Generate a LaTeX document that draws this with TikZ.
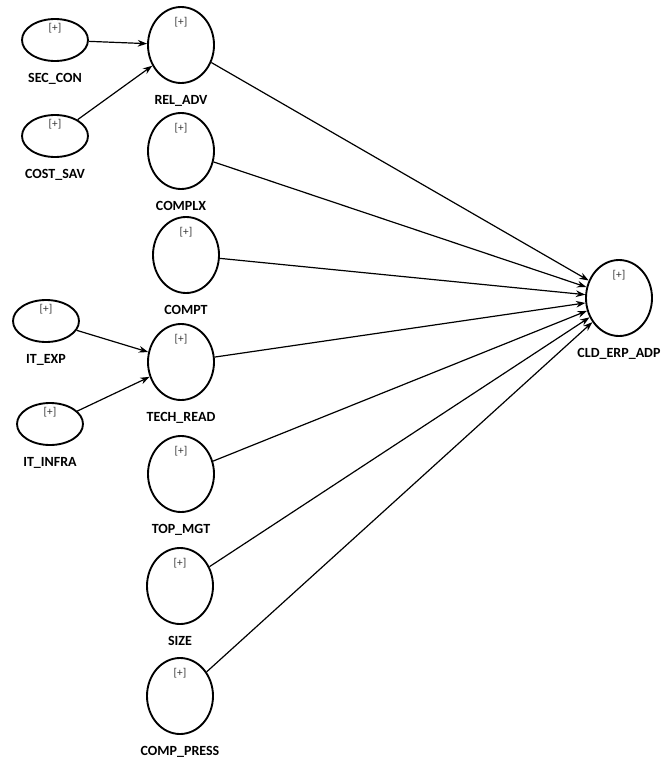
\documentclass[tikz,border=0pt]{standalone}
\usepackage{fontspec}
\setmainfont{Carlito}
\usetikzlibrary{shapes.geometric,arrows.meta}

\tikzset{
	plus/.style={font=\fontsize{8.5}{10}\selectfont, text=black!80, anchor=center, inner sep=0pt},
	lbl/.style={font=\fontsize{10.5}{12}\selectfont\bfseries, inner sep=1pt, label distance=7.5pt},
	indic/.style={ellipse, draw, line width=1.4pt, minimum width=49.5pt, minimum height=31.5pt, inner sep=0pt,
		label={[plus,label distance=-7.5pt]90:{[+]}}, label={[lbl]below:#1}},
	constr/.style={ellipse, draw, line width=1.4pt, minimum width=49.5pt, minimum height=57pt, inner sep=0pt,
		label={[plus,label distance=-12pt]90:{[+]}}, label={[lbl]below:#1}},
	path/.style={-{Stealth[length=7pt,width=5pt]}, line width=0.9pt}
}

\begin{document}
\begin{tikzpicture}[x=0.75pt,y=-0.75pt]
			\useasboundingbox (0,0) rectangle (662,760);
			
			% first order
			\node[indic=SEC\_CON] (seccon) at (55,40) {};
			\node[indic=COST\_SAV] (costsav) at (55,136) {};
			\node[indic=IT\_EXP] (itexp) at (46,321) {};
			\node[indic=IT\_INFRA] (itinfra) at (50,424) {};
			
			% second order
			\node[constr=REL\_ADV] (reladv) at (181,45) {};
			\node[constr=COMPLX] (complx) at (181,151) {};
			\node[constr=COMPT] (compt) at (186,255) {};
			\node[constr=TECH\_READ] (techread) at (181,362) {};
			\node[constr=TOP\_MGT] (topmgt) at (181,474) {};
			\node[constr=SIZE] (size) at (180,586) {};
			\node[constr=COMP\_PRESS] (comppress) at (180,696) {};
			
			\node[constr=CLD\_ERP\_ADP] (adopt) at (619,298) {};
			
			\draw[path] (seccon) -- (reladv);
			\draw[path] (costsav) -- (reladv);
			\draw[path] (itexp) -- (techread);
			\draw[path] (itinfra) -- (techread);
			
			\foreach \c in {reladv,complx,compt,techread,topmgt,size,comppress}
				\draw[path] (\c) -- (adopt);
		\end{tikzpicture}
\end{document}
